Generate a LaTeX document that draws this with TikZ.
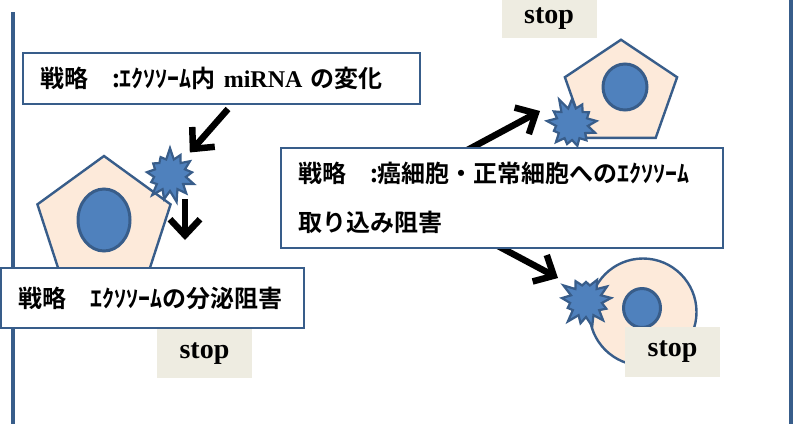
\documentclass[tikz,border=0pt]{standalone}
\usepackage{fontspec}
\setmainfont{Liberation Serif}
\newfontfamily\jpfont{Noto Sans CJK JP}[BoldFont={Noto Sans CJK JP Bold}]
\usetikzlibrary{shapes.geometric,shapes.symbols,arrows.meta}

\definecolor{edgeblue}{HTML}{385D8A}
\definecolor{cellblue}{HTML}{4F81BD}
\definecolor{peach}{HTML}{FDEADA}
\definecolor{stopbg}{HTML}{EEECE1}

\tikzset{
  box/.style={draw=edgeblue, line width=2.2pt, fill=white, inner ysep=0pt,
    align=left, font=\jpfont\bfseries\fontsize{24}{49}\selectfont},
  cellbody/.style={draw=edgeblue, fill=peach, line width=2.4pt, inner sep=0pt},
  pentacell/.style={cellbody, regular polygon, regular polygon sides=5},
  nucleus/.style={ellipse, draw=edgeblue, fill=cellblue, line width=3pt, inner sep=0pt},
  burst/.style={starburst, starburst points=13, starburst point height=12pt,
    draw=edgeblue, fill=cellblue, line width=2.2pt, inner sep=0pt,
    minimum width=56pt, minimum height=56pt},
  stoplabel/.style={fill=stopbg, inner sep=0pt,
    font=\rmfamily\bfseries\fontsize{28}{30}\selectfont},
  arr/.style={line width=6.5pt, -{Straight Barb[length=16pt,width=30pt]}},
  frameline/.style={draw=edgeblue, line width=3.5pt}
}

\begin{document}
\begin{tikzpicture}[x=1pt,y=-1pt]
\useasboundingbox (0,0) rectangle (799,424);

% side rules of the frame
\coordinate (lt) at (13,12);
\coordinate (lb) at (13,424);
\coordinate (rt) at (791,0);
\coordinate (rb) at (791,424);
\draw[frameline] (lt) -- (lb);
\draw[frameline] (rt) -- (rb);

% secreting cell (left)
\node[pentacell, minimum size=140pt] (lcell) at (104,226) {};
\node[nucleus, minimum width=52pt, minimum height=62pt] (lnuc) at (104,220) {};
\node[burst, random starburst=7] (lburst) at (170,175) {};

% receiving cell (upper right)
\node[pentacell, minimum size=118pt, yscale=0.92] (tcell) at (621,94) {};
\node[nucleus, minimum width=44pt, minimum height=46pt] (tnuc) at (625,87) {};
\node[burst, random starburst=11] (tburst) at (572,124) {};

% receiving cell (lower right)
\node[circle, cellbody, minimum size=107pt] (rcell) at (643,312) {};
\node[nucleus, minimum width=37pt, minimum height=39pt] (rnuc) at (642,308) {};
\node[burst, random starburst=23] (rburst) at (586,301) {};

% arrow ends
\coordinate (a1s) at (228,109);
\coordinate (a2s) at (185,199);
\coordinate (a2e) at (185,240);
\coordinate (a3s) at (460,154);
\coordinate (a3e) at (540,111);
\coordinate (a4s) at (498,246);
\coordinate (a4e) at (558,278);

\draw[arr, shorten >=30pt] (a1s) -- (lburst.center);
\draw[arr] (a2s) -- (a2e);
\draw[arr] (a3s) -- (a3e);
\draw[arr] (a4s) -- (a4e);

% strategy boxes
\node[box, inner xsep=17pt, text width=363pt, minimum height=51pt] (b1) at (221.5,78.5)
  {戦略　:ｴｸｿｿｰﾑ内 {\rmfamily\bfseries miRNA} の変化};
\node[box, inner xsep=17pt, text width=442pt-34pt, minimum height=100pt] (b3) at (502,198)
  {戦略　:癌細胞・正常細胞へのｴｸｿｿｰﾑ\\取り込み阻害};
\node[box, inner xsep=17pt, text width=269pt, minimum height=60pt] (b2) at (152.5,298)
  {戦略　ｴｸｿｿｰﾑの分泌阻害};

% stop labels
\node[stoplabel, minimum width=95pt, minimum height=38pt] (s1) at (549,19) {stop};
\node[stoplabel, minimum width=95pt, minimum height=49pt] (s2) at (204.5,353.5) {stop};
\node[stoplabel, minimum width=95pt, minimum height=50pt] (s3) at (672.5,352) {stop};
\end{tikzpicture}
\end{document}
